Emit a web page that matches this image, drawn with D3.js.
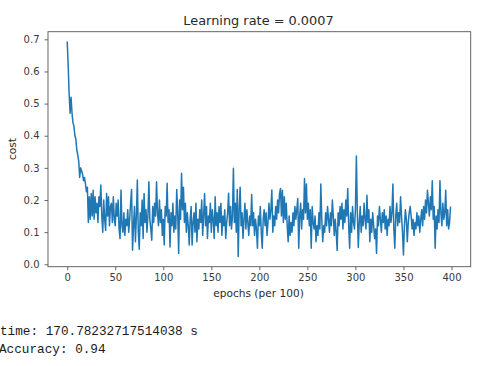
<!DOCTYPE html>
<html>
<head>
<meta charset="utf-8">
<script src="https://cdn.jsdelivr.net/npm/d3@7"></script>
<style>
html,body{margin:0;padding:0;background:#fff;}
svg{display:block;}
</style>
</head>
<body>
<script>
const titleText = "Learning rate = 0.0007";
const xLabel = "epochs (per 100)";
const yLabel = "cost";
const xTicks = [0, 50, 100, 150, 200, 250, 300, 350, 400];
const yTicks = [0.0, 0.1, 0.2, 0.3, 0.4, 0.5, 0.6, 0.7];
const infoLines = ["time: 170.78232717514038 s", "Accuracy: 0.94"];
const costs = [
0.693,0.62,0.53,0.47,0.52,0.47,0.44,0.43,0.40,0.39,
0.355,0.34,0.32,0.27,0.30,0.29,0.28,0.26,0.27,0.25,
0.226,0.24,0.13,0.21,0.14,0.22,0.15,0.23,0.14,0.21,
0.16,0.19,0.13,0.21,0.18,0.247,0.15,0.10,0.20,0.14,
0.105,0.22,0.15,0.21,0.12,0.18,0.19,0.13,0.21,0.14,
0.12,0.19,0.15,0.20,0.11,0.08,0.231,0.12,0.10,0.16,
0.09,0.14,0.12,0.17,0.10,0.14,0.19,0.233,0.044,0.12,
0.18,0.07,0.15,0.262,0.10,0.047,0.16,0.12,0.20,0.08,
0.22,0.13,0.17,0.10,0.15,0.257,0.14,0.11,0.075,0.18,
0.13,0.19,0.15,0.257,0.16,0.12,0.20,0.13,0.17,0.09,
0.14,0.06,0.18,0.15,0.252,0.13,0.17,0.054,0.16,0.12,
0.19,0.10,0.15,0.11,0.233,0.16,0.034,0.20,0.14,0.283,
0.17,0.24,0.13,0.19,0.10,0.16,0.12,0.06,0.14,0.18,
0.06,0.13,0.16,0.10,0.19,0.07,0.14,0.11,0.17,0.13,
0.20,0.09,0.15,0.22,0.12,0.18,0.08,0.15,0.13,0.19,
0.10,0.17,0.14,0.08,0.21,0.12,0.16,0.10,0.18,0.13,
0.19,0.09,0.15,0.12,0.17,0.08,0.13,0.16,0.221,0.12,
0.18,0.11,0.15,0.299,0.13,0.19,0.10,0.233,0.024,0.17,
0.24,0.12,0.16,0.08,0.14,0.19,0.11,0.17,0.13,0.09,
0.15,0.12,0.217,0.12,0.16,0.09,0.14,0.11,0.05,0.15,
0.12,0.18,0.10,0.05,0.14,0.17,0.12,0.16,0.09,0.13,
0.19,0.14,0.17,0.231,0.10,0.15,0.12,0.18,0.14,0.20,
0.16,0.22,0.236,0.15,0.23,0.13,0.21,0.14,0.19,0.12,
0.07,0.15,0.09,0.13,0.10,0.16,0.12,0.18,0.14,0.17,
0.205,0.05,0.15,0.19,0.11,0.17,0.14,0.267,0.16,0.25,
0.14,0.19,0.12,0.17,0.05,0.18,0.13,0.11,0.15,0.07,
0.12,0.09,0.16,0.11,0.25,0.14,0.07,0.12,0.10,0.16,
0.12,0.18,0.14,0.10,0.16,0.12,0.20,0.15,0.09,0.14,
0.10,0.043,0.16,0.12,0.18,0.14,0.19,0.11,0.17,0.13,
0.20,0.15,0.236,0.12,0.05,0.16,0.10,0.18,0.13,0.11,
0.17,0.337,0.16,0.052,0.13,0.18,0.10,0.15,0.12,0.19,
0.14,0.11,0.215,0.13,0.17,0.07,0.14,0.10,0.16,0.12,
0.08,0.11,0.034,0.15,0.12,0.18,0.14,0.10,0.16,0.13,
0.17,0.11,0.15,0.09,0.14,0.12,0.18,0.13,0.16,0.25,
0.11,0.05,0.15,0.19,0.12,0.16,0.13,0.21,0.15,0.10,
0.029,0.12,0.17,0.14,0.07,0.13,0.16,0.18,0.15,0.11,
0.14,0.09,0.13,0.11,0.16,0.12,0.15,0.10,0.14,0.17,
0.12,0.18,0.14,0.20,0.16,0.23,0.19,0.15,0.21,0.17,
0.26,0.14,0.18,0.05,0.15,0.11,0.17,0.13,0.26,0.16,
0.12,0.19,0.14,0.16,0.23,0.12,0.17,0.11,0.13,0.18
];

const W = 500, H = 366;
const plot = {left: 48, right: 470.7, top: 31.7, bottom: 266.7};

const svg = d3.select("body").append("svg").attr("width", W).attr("height", H);
svg.append("rect").attr("width", W).attr("height", H).attr("fill", "#fff");

const x = d3.scaleLinear().domain([-20, 420]).range([plot.left, plot.right]);
const y = d3.scaleLinear().domain([-0.0075, 0.7237]).range([plot.bottom, plot.top]);

const tickColor = "#3a3a3a";
const font = "DejaVu Sans, sans-serif";

// line
const line = d3.line().x((d, i) => x(i)).y(d => y(d));
svg.append("path").datum(costs)
  .attr("d", line)
  .attr("fill", "none")
  .attr("stroke", "#1f77b4")
  .attr("stroke-width", 1.5)
  .attr("stroke-linejoin", "round");

// axes
const xAxis = d3.axisBottom(x).tickValues(xTicks).tickSize(3.5).tickPadding(3.5).tickFormat(d3.format("d"));
const yAxis = d3.axisLeft(y).tickValues(yTicks).tickSize(3.5).tickPadding(5).tickFormat(d3.format(".1f"));

const gx = svg.append("g").attr("transform", `translate(0,${plot.bottom})`).call(xAxis);
const gy = svg.append("g").attr("transform", `translate(${plot.left},0)`).call(yAxis);
[gx, gy].forEach(g => {
  g.select(".domain").remove();
  g.selectAll(".tick line").attr("stroke", "#444").attr("stroke-width", 0.8);
  g.selectAll(".tick text").attr("fill", tickColor).style("font-family", font).style("font-size", "10px");
});

// frame
svg.append("rect")
  .attr("x", plot.left).attr("y", plot.top)
  .attr("width", plot.right - plot.left).attr("height", plot.bottom - plot.top)
  .attr("fill", "none").attr("stroke", "#555").attr("stroke-width", 0.9);

// title & labels
svg.append("text").attr("x", 258.5).attr("y", 24.5)
  .attr("text-anchor", "middle").attr("fill", "#2a2a2a")
  .style("font-family", font).style("font-size", "12.9px").text(titleText);
svg.append("text").attr("x", 258.5).attr("y", 296.5)
  .attr("text-anchor", "middle").attr("fill", "#2a2a2a")
  .style("font-family", font).style("font-size", "10.6px").text(xLabel);
svg.append("text").attr("transform", `translate(16,149) rotate(-90)`)
  .attr("text-anchor", "middle").attr("fill", "#2a2a2a")
  .style("font-family", font).style("font-size", "10.6px").text(yLabel);

// info text
svg.selectAll("text.info").data(infoLines).enter().append("text")
  .attr("class", "info")
  .attr("x", (d, i) => i === 0 ? 0 : -1)
  .attr("y", (d, i) => 335 + i * 18)
  .attr("fill", "#1a1a1a")
  .style("font-family", "Liberation Mono, DejaVu Sans Mono, monospace")
  .style("font-size", "12.7px")
  .text(d => d);
</script>
</body>
</html>
